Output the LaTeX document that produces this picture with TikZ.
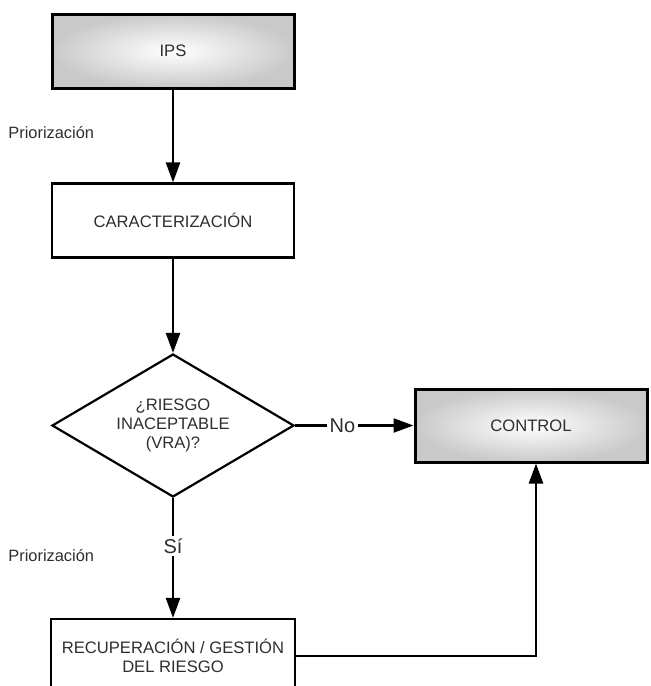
\documentclass[tikz,border=0pt]{standalone}
\usepackage{fontspec}
\setmainfont{Liberation Sans}
\usetikzlibrary{shapes.geometric,arrows.meta}
\def\mboxwidth{121pt}
\def\mboxheight{37pt}
\def\mshadecolor{gray!42}
\def\mtextcolor{black!82}
\tikzset{
	flow box/.style={draw, line width=1.1pt, minimum width=\mboxwidth, minimum height=\mboxheight, align=center, font=\fontsize{8.3}{9.5}\selectfont, text=\mtextcolor},
	shaded box/.style={flow box, line width=1.5pt, inner color=white, outer color=\mshadecolor},
	flow arrow/.style={line width=1.2pt, -{Triangle[length=10pt,width=7pt]}},
	flow label/.style={fill=white, inner sep=1.5pt, font=\fontsize{10}{12}\selectfont, text=\mtextcolor},
	side note/.style={anchor=west, inner sep=0pt, font=\fontsize{8.2}{10}\selectfont, text=\mtextcolor}
}

\begin{document}
\begin{tikzpicture}[x=0.5pt, y=-0.5pt]
		% Page frame, the last box runs off the bottom
		\useasboundingbox (0,0) rectangle (651,686);
		\clip (0,0) rectangle (651,686);
		\node[shaded box] (ips) at (173,51) {IPS};
		\node[flow box] (carac) at (173,220.5) {CARACTERIZACIÓN};
		\node[flow box, diamond, aspect=1.7, minimum width=121pt, minimum height=71.5pt, inner sep=0pt] (riesgo) at (173,425.5) {¿RIESGO\\INACEPTABLE\\(VRA)?};
		\node[shaded box, minimum width=116pt, minimum height=36.5pt] (control) at (531,425.5) {CONTROL};
		\node[flow box, minimum width=122pt] (recup) at (173,656) {RECUPERACIÓN / GESTIÓN\\DEL RIESGO};
		\node[side note] (prio1) at (8,133) {Priorización};
		\node[side note] (prio2) at (8,556) {Priorización};
		\draw[flow arrow] (ips) -- (carac);
		\draw[flow arrow] (carac) -- (riesgo);
		\draw[flow arrow] (riesgo) -- node[flow label, pos=0.4] (no) {No} (control);
		\draw[flow arrow] (riesgo) -- node[flow label, pos=0.4] (si) {Sí} (recup);
		\draw[flow arrow] (recup.east) -| ([xshift=2.5pt]control.south);
	\end{tikzpicture}
\end{document}
